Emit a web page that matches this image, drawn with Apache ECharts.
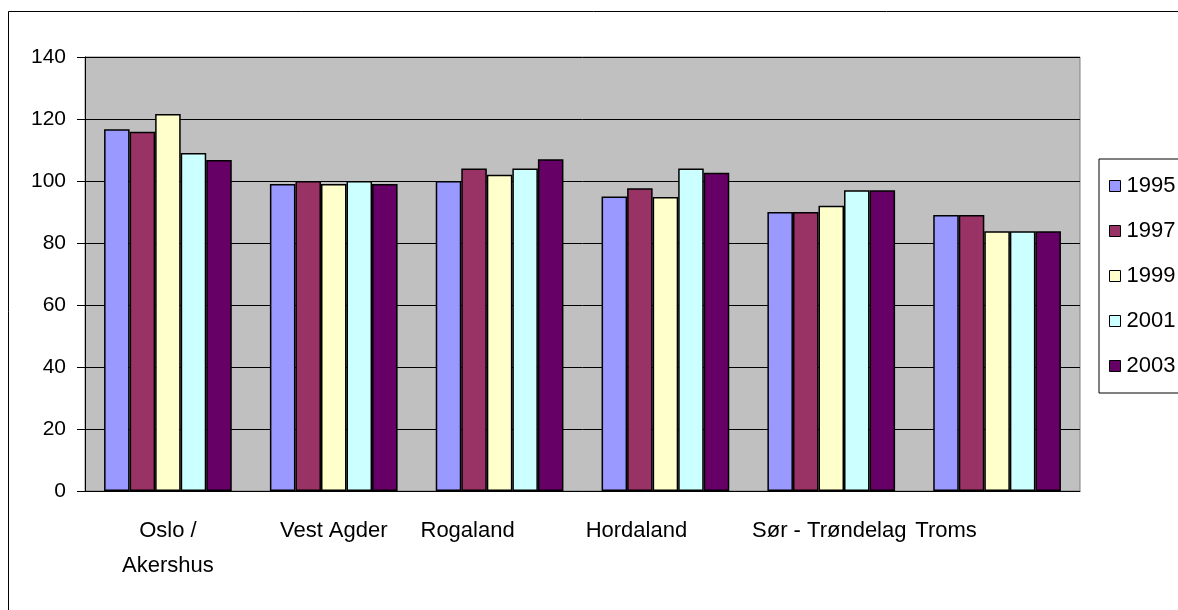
<!DOCTYPE html>
<html>
<head>
<meta charset="utf-8">
<script src="https://cdn.jsdelivr.net/npm/echarts@6/dist/echarts.min.js"></script>
<style>
  html, body { margin: 0; padding: 0; background: #fff; }
  #chart { width: 1178px; height: 610px; }
</style>
</head>
<body>
<div id="chart"></div>
<script>
const regions = ['Oslo /\nAkershus', 'Vest Agder', 'Rogaland', 'Hordaland', 'Sør - Trøndelag', 'Troms'];
const years = ['1995', '1997', '1999', '2001', '2003'];
const v1995 = [116.7, 99, 100, 95, 90, 89];
const v1997 = [115.9, 100, 104, 97.7, 90, 89];
const v1999 = [121.6, 99, 102, 94.8, 92, 83.8];
const v2001 = [109, 100, 104, 104, 97, 83.8];
const v2003 = [106.8, 99, 107, 102.7, 97, 83.8];
const yTicks = [0, 20, 40, 60, 80, 100, 120, 140];

// excel put some labels a bit off the category centre
const labelShift = [0, 0, -32, -29, -2, -51];
const colors = ['#9999FF', '#993366', '#FFFFCC', '#CCFFFF', '#660066'];
const font = '"Liberation Sans", Arial, sans-serif';

const chart = echarts.init(document.getElementById('chart'));
const seriesData = [v1995, v1997, v1999, v2001, v2003];

function shiftPad(s) {
    if (s < 0) return [0, -2 * s, 0, 0];
    if (s > 0) return [0, 0, 0, 2 * s];
    return 0;
}

chart.setOption({
    animation: false,
    textStyle: { fontFamily: font, color: '#000' },
    graphic: [{
        type: 'rect',
        shape: { x: 8.5, y: 11.5, width: 1300, height: 800 },
        style: { fill: 'none', stroke: '#000', lineWidth: 1 },
        z: -10
    }],
    grid: {
        left: 85, right: 98, top: 57, bottom: 119,
        show: true,
        backgroundColor: '#C0C0C0',
        borderColor: '#808080',
        borderWidth: 1
    },
    legend: {
        orient: 'vertical',
        left: 1099,
        top: 159,
        padding: [16, 30, 16, 10],
        itemGap: 23,
        itemWidth: 11,
        itemHeight: 11,
        icon: 'rect',
        backgroundColor: '#fff',
        borderColor: '#000',
        borderWidth: 1,
        itemStyle: { borderColor: '#000', borderWidth: 1 },
        textStyle: { fontSize: 22, fontFamily: font, color: '#000', padding: [0, 0, 0, 1] },
        data: years
    },
    xAxis: {
        type: 'category',
        data: regions.map((r, i) => ({
            value: r,
            textStyle: { padding: shiftPad(labelShift[i]) }
        })),
        axisLine: { lineStyle: { color: '#000', width: 1 } },
        axisTick: { length: 7, lineStyle: { color: '#000' } },
        axisLabel: {
            interval: 0,
            margin: 22,
            fontSize: 22,
            lineHeight: 35,
            color: '#000',
            fontFamily: font
        }
    },
    yAxis: {
        type: 'value',
        min: yTicks[0],
        max: yTicks[yTicks.length - 1],
        interval: 20,
        axisLine: { show: true, lineStyle: { color: '#000', width: 1 } },
        axisTick: { show: true, length: 8, lineStyle: { color: '#000' } },
        axisLabel: { margin: 19, fontSize: 21, color: '#000', fontFamily: font },
        splitLine: { lineStyle: { color: '#000', width: 1 } }
    },
    series: years.map((y, i) => ({
        name: y,
        type: 'bar',
        data: seriesData[i],
        barGap: '0%',
        barCategoryGap: '23%',
        itemStyle: {
            color: colors[i],
            borderColor: '#000',
            borderWidth: 1.5
        }
    }))
});
</script>
</body>
</html>
